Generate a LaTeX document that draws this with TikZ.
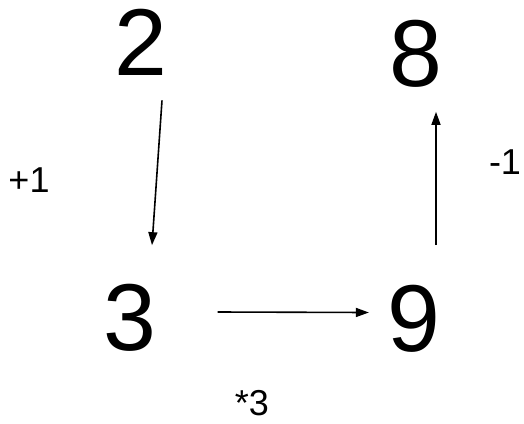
\documentclass[tikz,border=0pt]{standalone}
\usepackage{fontspec}
\setmainfont{Liberation Sans}
\usetikzlibrary{arrows.meta,positioning}
\tikzset{
  num/.style={inner sep=0pt, font=\fontsize{95}{100}\selectfont},
  lbl/.style={inner sep=0pt, font=\fontsize{36}{40}\selectfont},
  flow/.style={-{Triangle[length=13pt, width=9pt]}, line width=1.6pt}
}

\begin{document}
\begin{tikzpicture}[x=1pt, y=-1pt]
  \useasboundingbox (0,0) rectangle (524,423);
  % numbers
  \node[num] (n2) at (141,42) {2};
  \node[num] (n8) at (416,53.5) {8};
  \node[num] (n3) at (130,318) {3};
  \node[num] (n9) at (414,318.5) {9};

  % operations
  \node[lbl] (add) at (29,180) {+1};
  \node[lbl] (sub) at (505,162) {-1};
  \node[lbl] (mul) at (252,403) {*3};

  \draw[flow] ([xshift=21pt, yshift=-25pt]n2.south) -- ([xshift=22pt, yshift=39pt]n3.north);
  \draw[flow] ([xshift=61pt, yshift=6pt]n3.east) -- ([xshift=-18.5pt, yshift=6pt]n9.west);
  \draw[flow] ([xshift=22pt, yshift=39.5pt]n9.north) -- ([xshift=20pt, yshift=-24.5pt]n8.south);
\end{tikzpicture}
\end{document}
